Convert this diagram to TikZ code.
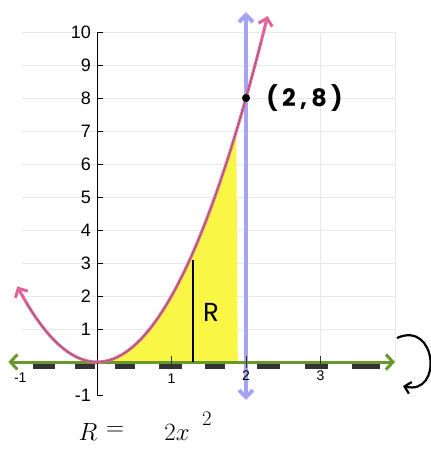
\documentclass[tikz,border=0pt]{standalone}
\usepackage{fontspec}
\newfontfamily\hand{Poppins}
\newfontfamily\tickfont{Liberation Sans}
\usetikzlibrary{arrows.meta}
\definecolor{pinkc}{RGB}{226,98,154}
\definecolor{bluec}{RGB}{166,164,242}
\definecolor{greenc}{RGB}{104,152,44}
\definecolor{yellowc}{RGB}{250,246,70}
\definecolor{gridc}{RGB}{232,232,232}
\tikzset{
  gridline/.style={gridc, line width=0.8pt},
  ylab/.style={font=\tickfont\fontsize{18}{18}\selectfont, anchor=east, inner sep=0pt},
  xlab/.style={font=\tickfont\fontsize{14}{14}\selectfont, anchor=north, inner sep=0pt},
  handtext/.style={font=\hand\bfseries\fontsize{24}{24}\selectfont, inner sep=0pt},
  eqtext/.style={font=\fontsize{27}{27}\selectfont, inner sep=0pt},
}
\begin{document}
\begin{tikzpicture}[x=74.5pt,y=33pt]
\useasboundingbox (-97pt,-88pt) rectangle (334pt,362pt);
% faint grid
\foreach \y in {1,...,10} \draw[gridline] (-1,\y) -- (4,\y);
\foreach \x in {3,4} \draw[gridline] (\x,0) -- (\x,10);
% yellow region
\fill[yellowc] (0,0) -- plot[domain=0:1.87,samples=40] (\x,{2*\x*\x}) -- (1.89,0) -- cycle;
% blue vertical line x=2
\coordinate (b1) at (2,-1.15);
\coordinate (b2) at (2,10.6);
\draw[bluec, line width=4pt, {Straight Barb[length=7pt,width=14pt]}-{Straight Barb[length=7pt,width=14pt]}] (b1) -- (b2);
% dashed line below axis
\foreach \a/\b in {-64/-42,-22/-2,18/38,62/85,108/128,160/183,208/231,255/283}
  \draw[black!80, line width=5pt] (\a pt,-4pt) -- (\b pt,-4pt);
% green x-axis
\coordinate (gl) at (-1.19,0);
\coordinate (gr) at (4.0,0);
\draw[greenc, line width=3pt, {Straight Barb[length=7pt,width=15pt]}-{Straight Barb[length=7pt,width=15pt]}] (gl) -- (gr);
% y-axis
\draw[black, line width=0.8pt] (0,-1) -- (0,10);
\foreach \y in {-1,1,2,...,10} {
  \draw[black, line width=0.8pt] (0,\y) -- ++(6pt,0);
  \node[ylab] (yl\y) at (-6pt,\y) {\y};
}
% x ticks
\foreach \x in {1,2,3} \draw[black!80, line width=1pt] (\x,-6pt) -- (\x,6pt);
\node[xlab] (xlm) at (-1.03,-11pt) {-1};
\node[xlab] (xl1) at (1,-12pt) {1};
\node[xlab] (xl2) at (2,-9pt) {2};
\node[xlab] (xl3) at (3,-9pt) {3};
% parabola
\draw[pinkc, line width=3pt, {Straight Barb[length=7pt,width=14pt]}-{Straight Barb[length=7pt,width=14pt]}] plot[domain=-1.07:2.29,samples=80] (\x,{2*\x*\x});
\draw[black!60, line width=0.5pt] plot[domain=-0.95:2.2,samples=80] (\x,{2*\x*\x});
% R segment
\coordinate (r0) at (1.29,0);
\coordinate (r1) at (1.29,3.1);
\draw[black, line width=1.6pt] (r0) -- (r1);
\node[handtext, font=\hand\fontsize{26}{26}\selectfont] (rlab) at (114pt,50pt) {R};
% point (2,8)
\fill[black] (2,8) circle (4pt);
\node[handtext, anchor=west] (plab) at (2.27,8) {\addfontfeature{LetterSpace=18}(2,8)};
% rotation loop
\coordinate (l0) at (300pt,24pt);
\coordinate (l1) at (306pt,-24pt);
\draw[black, line width=2.2pt, -{Straight Barb[length=6pt,width=12pt]}] (l0) .. controls (340pt,42pt) and (346pt,-34pt) .. (l1);
% equation
\node[eqtext] (eqR) at (-9pt,-70pt) {$R$};
\node[eqtext] (eqE) at (18pt,-69pt) {$=$};
\node[eqtext] (eq2x) at (80pt,-70pt) {$2x$};
\node[font=\fontsize{21}{21}\selectfont, inner sep=0pt] (eqsq) at (110pt,-57pt) {$2$};
\end{tikzpicture}
\end{document}
